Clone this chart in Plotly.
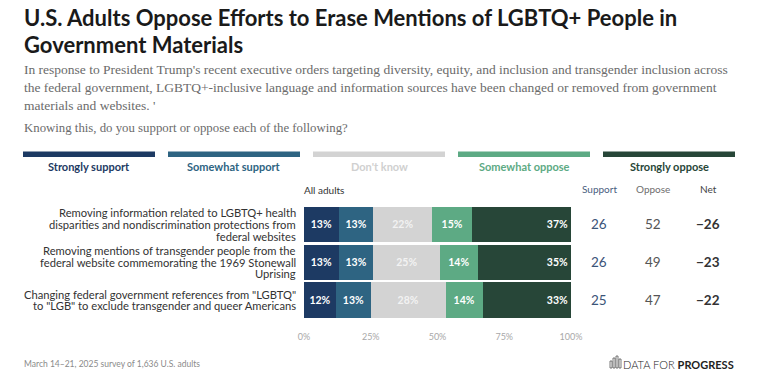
import plotly.graph_objects as go

# ---------------- data ----------------
statements = [
    "Removing information related to LGBTQ+ health<br>disparities and nondiscrimination protections from<br>federal websites",
    "Removing mentions of transgender people from the<br>federal website commemorating the 1969 Stonewall<br>Uprising",
    "Changing federal government references from \"LGBTQ\"<br>to \"LGB\" to exclude transgender and queer Americans",
]
series_names = ["Strongly support", "Somewhat support", "Don't know", "Somewhat oppose", "Strongly oppose"]
strongly_support = [13, 13, 12]
somewhat_support = [13, 13, 13]
dont_know = [22, 25, 28]
somewhat_oppose = [15, 14, 14]
strongly_oppose = [37, 35, 33]
support_totals = [26, 26, 25]
oppose_totals = [52, 49, 47]
net_values = ["−26", "−23", "−22"]
tick_vals = [0, 25, 50, 75, 100]
tick_text = ["0%", "25%", "50%", "75%", "100%"]

colors = ["#1d3a63", "#2e6482", "#d3d3d3", "#5daa84", "#274638"]
text_colors = ["#ffffff", "#ffffff", "#f2f2f2", "#ffffff", "#ffffff"]

# ---------------- geometry helpers (page pixel coords) ----------------
W, H = 762, 385
L, R, T, B = 304, 571, 204, 319
PW, PH = R - L, B - T


def xp(px):
    return (px - L) / PW


def yp(py):
    return (B - py) / PH


SANS = "Lato, 'Open Sans', sans-serif"
SERIF = "'Liberation Serif', 'DejaVu Serif', serif"

fig = go.Figure()
all_series = [strongly_support, somewhat_support, dont_know, somewhat_oppose, strongly_oppose]
for i, (name, vals) in enumerate(zip(series_names, all_series)):
    fig.add_trace(go.Bar(
        y=statements, x=vals, name=name, orientation="h",
        marker=dict(color=colors[i], line=dict(width=0)),
        text=[f"<b>{v}%</b>" for v in vals], textposition="inside",
        insidetextanchor="end" if i == 4 else "middle",
        textfont=dict(family=SANS, size=10.5, color=text_colors[i]),
        constraintext="none", showlegend=False, hoverinfo="skip",
    ))

fig.update_layout(
    barmode="stack", bargap=0.07,
    width=W, height=H,
    margin=dict(l=L, r=W - R, t=T, b=H - B, pad=0),
    paper_bgcolor="white", plot_bgcolor="white",
    font=dict(family=SANS, color="#333"),
)
fig.update_xaxes(range=[0, 100], tickvals=tick_vals, ticktext=tick_text,
                 showgrid=False, zeroline=False, showline=False, ticks="",
                 tickfont=dict(size=9, color="#a8a8a8", family=SANS), ticklabelstandoff=11,
                 fixedrange=True)
fig.update_yaxes(autorange="reversed", showgrid=False, zeroline=False, showline=False,
                 ticks="", showticklabels=False, fixedrange=True)

ann = []
# title (two lines)
title_lines = ["U.S. Adults Oppose Efforts to Erase Mentions of LGBTQ+ People in", "Government Materials"]
for j, (tl, ty) in enumerate(zip(title_lines, [17, 44])):
    ann.append(dict(x=xp(22), y=yp(ty), xref="paper", yref="paper", xanchor="left", yanchor="middle",
                    align="left", showarrow=False, text=f"<b>{tl}</b>",
                    font=dict(family=SANS, size=22, color="#1a1a1a")))
# subtitle
sub_lines = [
    "In response to President Trump's recent executive orders targeting diversity, equity, and inclusion and transgender inclusion across",
    "the federal government, LGBTQ+-inclusive language and information sources have been changed or removed from government",
    "materials and websites. '",
]
for ln, ly in zip(sub_lines, [69, 87, 105]):
    ann.append(dict(x=xp(22), y=yp(ly), xref="paper", yref="paper", xanchor="left", yanchor="middle",
                    align="left", showarrow=False, text=ln,
                    font=dict(family=SERIF, size=13.5, color="#6b6b6b")))
ann.append(dict(x=xp(22), y=yp(128), xref="paper", yref="paper", xanchor="left", yanchor="middle",
                align="left", showarrow=False,
                text="Knowing this, do you support or oppose each of the following?",
                font=dict(family=SERIF, size=12.8, color="#6b6b6b")))

# legend bars + labels
shapes = []
seg_left = 23
seg_w = 132
seg_gap = 13
for i, name in enumerate(series_names):
    x0 = seg_left + i * (seg_w + seg_gap)
    shapes.append(dict(type="rect", xref="paper", yref="paper",
                       x0=xp(x0), x1=xp(x0 + seg_w), y0=yp(157), y1=yp(151.5),
                       fillcolor=colors[i], line=dict(width=0), layer="above"))
    ann.append(dict(x=xp(x0 + seg_w / 2), y=yp(166), xref="paper", yref="paper",
                    xanchor="center", yanchor="middle", showarrow=False,
                    text=f"<b>{name}</b>",
                    font=dict(family=SANS, size=11, color=colors[i] if i != 2 else "#d0d0d0")))

# row labels (one annotation per line so the line spacing matches)
LINE = 11.8
for s in statements:
    lines = s.split("<br>")
    n = len(lines)
    for j, ln in enumerate(lines):
        off = (j - (n - 1) / 2) * LINE
        ann.append(dict(x=xp(298), y=s, xref="paper", yref="y", xanchor="right", yanchor="middle",
                        yshift=-off, showarrow=False, text=ln,
                        font=dict(family=SANS, size=11.2, color="#333")))

# "All adults"
ann.append(dict(x=xp(302), y=yp(190), xref="paper", yref="paper", xanchor="left", yanchor="middle",
                showarrow=False, text="All adults", font=dict(family=SANS, size=10, color="#333")))

# summary columns
col_x = {"Support": 599, "Oppose": 653, "Net": 708}
head_col = {"Support": "#4a6080", "Oppose": "#6e6e6e", "Net": "#444"}
for k, cx in col_x.items():
    ann.append(dict(x=xp(cx), y=yp(189), xref="paper", yref="paper", xanchor="center", yanchor="middle",
                    showarrow=False, text=k, font=dict(family=SANS, size=10, color=head_col[k])))
for i, s in enumerate(statements):
    ann.append(dict(x=xp(col_x["Support"]), y=s, xref="paper", yref="y", xanchor="center", yanchor="middle",
                    showarrow=False, text=str(support_totals[i]),
                    font=dict(family=SANS, size=13.5, color="#3b5478")))
    ann.append(dict(x=xp(col_x["Oppose"]), y=s, xref="paper", yref="y", xanchor="center", yanchor="middle",
                    showarrow=False, text=str(oppose_totals[i]),
                    font=dict(family=SANS, size=13.5, color="#555")))
    ann.append(dict(x=xp(col_x["Net"]), y=s, xref="paper", yref="y", xanchor="center", yanchor="middle",
                    showarrow=False, text=f"<b>{net_values[i]}</b>",
                    font=dict(family=SANS, size=13.5, color="#333")))

# footer
ann.append(dict(x=xp(22), y=yp(364), xref="paper", yref="paper", xanchor="left", yanchor="middle",
                showarrow=False, text="March 14–21, 2025 survey of 1,636 U.S. adults",
                font=dict(family=SANS, size=8.5, color="#8a8a8a")))
ann.append(dict(x=xp(736), y=yp(364), xref="paper", yref="paper", xanchor="right", yanchor="middle",
                showarrow=False, text="DATA FOR <b>PROGRESS</b>",
                font=dict(family=SANS, size=11, color="#222", weight=300)))
# logo glyph (small bar icon)
logo_bars = [(610, 361, 368), (613, 358, 368), (616, 356, 368), (619, 359, 368)]
for bx, top, bot in logo_bars:
    shapes.append(dict(type="rect", xref="paper", yref="paper",
                       x0=xp(bx), x1=xp(bx + 2), y0=yp(bot), y1=yp(top),
                       fillcolor="white", line=dict(color="#555", width=0.8)))

fig.update_layout(annotations=ann, shapes=shapes)
fig.write_html("out.html", config={"displayModeBar": False, "staticPlot": True},
               post_script="document.body.style.margin='0px';document.body.style.overflow='hidden';")
